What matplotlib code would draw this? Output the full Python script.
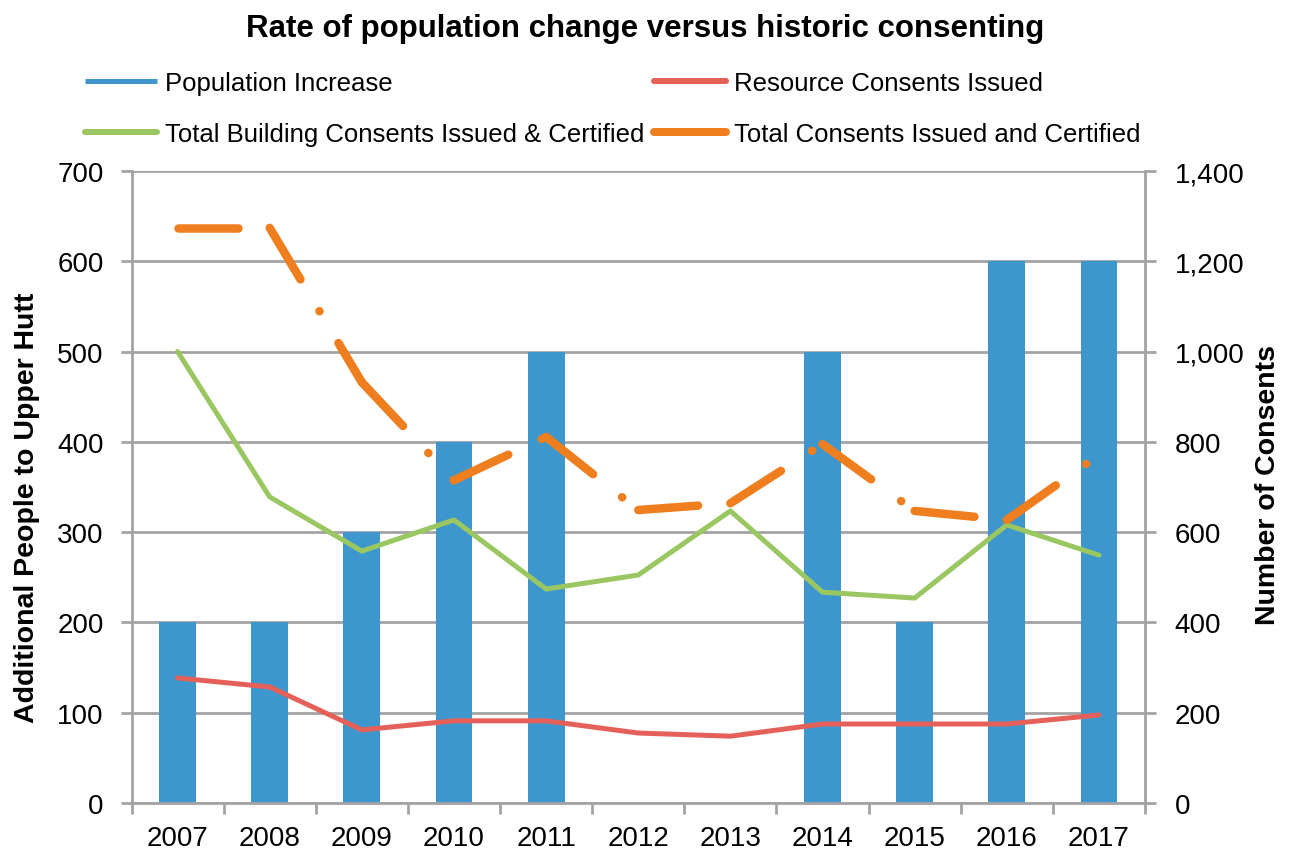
import matplotlib
matplotlib.use("Agg")
import matplotlib.pyplot as plt
from matplotlib.lines import Line2D
from matplotlib.ticker import FuncFormatter, MultipleLocator
import numpy as np

plt.rcParams['font.family'] = ['Liberation Sans', 'DejaVu Sans']
plt.rcParams['lines.scale_dashes'] = False

years = ['2007', '2008', '2009', '2010', '2011', '2012', '2013', '2014', '2015', '2016', '2017']
population_increase = [200, 200, 300, 400, 500, 0, 0, 500, 200, 600, 600]
resource_consents = [277, 257, 162, 182, 182, 155, 148, 175, 175, 175, 195]
building_consents = [1000, 678, 558, 627, 474, 505, 647, 467, 454, 616, 549]
total_consents = [1274, 1274, 932, 715, 811, 649, 664, 795, 647, 627, 771]

BLUE = '#3D96CC'
RED = '#E6605A'
GREEN = '#9BC762'
ORANGE = '#EF7F1E'
GRID = '#A3A3A3'

W, H = 1290, 854
fig = plt.figure(figsize=(W / 100, H / 100), dpi=100)
L, R, T, B = 131.5, 1145, 172, 804
ax = fig.add_axes([L / W, 1 - B / H, (R - L) / W, (B - T) / H])
ax2 = ax.twinx()

x = np.arange(len(years))
ax.bar(x, population_increase, width=0.4, color=BLUE, zorder=2)
ax.set_xlim(-0.5, len(years) - 0.5)
ax.set_ylim(0, 700)
ax.yaxis.set_major_locator(MultipleLocator(100))
ax.grid(axis='y', color=GRID, linewidth=2, zorder=0)
ax.set_axisbelow(True)

ax2.set_ylim(0, 1400)
ax2.yaxis.set_major_locator(MultipleLocator(200))
ax2.yaxis.set_major_formatter(FuncFormatter(lambda v, p: f'{int(v):,}'))

lw_thin = 5 * 0.72
ax2.plot(x, resource_consents, color=RED, linewidth=lw_thin, solid_capstyle='round',
         solid_joinstyle='round', zorder=3)
ax2.plot(x, building_consents, color=GREEN, linewidth=lw_thin, solid_capstyle='round',
         solid_joinstyle='round', zorder=3)
# dash pattern restarts at every vertex (as drawn in the original)
lw_thick = 8.5 * 0.72
dash = (60 * 0.72, 37 * 0.72, 0.1, 37 * 0.72)
for i in range(len(x) - 1):
    ax2.plot(x[i:i + 2], total_consents[i:i + 2], color=ORANGE, linewidth=lw_thick,
             dashes=dash, dash_capstyle='round', solid_capstyle='round', zorder=4)

# axes styling
for a in (ax, ax2):
    for s in a.spines.values():
        s.set_color(GRID)
        s.set_linewidth(2)
    a.spines['top'].set_visible(False)
ax.spines['right'].set_visible(False)
ax2.spines['left'].set_visible(False)
ax2.spines['bottom'].set_visible(False)

FS = 20
ax.set_xticks(x)
ax.set_xticklabels(years)
ax.set_xticks(np.arange(-0.5, len(years), 1), minor=True)
ax.tick_params(axis='x', which='major', length=0, labelsize=FS, pad=15.5, colors='black')
ax.tick_params(axis='x', which='minor', length=8, width=2, color=GRID, direction='out')
ax.tick_params(axis='y', length=8, width=2, color=GRID, labelsize=FS, pad=12, labelcolor='black')
ax2.tick_params(axis='y', length=8, width=2, color=GRID, labelsize=FS, pad=13.5, labelcolor='black')

ax.set_ylabel('Additional People to Upper Hutt', fontsize=20.5, fontweight='bold')
ax2.set_ylabel('Number of Consents', fontsize=20.5, fontweight='bold')
ax.yaxis.set_label_coords((27 - L) / (R - L), (B - 508) / (B - T))
ax2.yaxis.set_label_coords((1268 - L) / (R - L), (B - 485) / (B - T))
ax.yaxis.label.set_verticalalignment('center')
ax2.yaxis.label.set_verticalalignment('center')

fig.text(0.5 * (243 + 1048) / W, 1 - 37 / H, 'Rate of population change versus historic consenting',
         ha='center', va='baseline', fontsize=22.5, fontweight='bold')

handles = [
    Line2D([], [], color=BLUE, linewidth=5 * 0.72, solid_capstyle='butt'),
    Line2D([], [], color=GREEN, linewidth=6 * 0.72, solid_capstyle='round'),
    Line2D([], [], color=RED, linewidth=6 * 0.72, solid_capstyle='round'),
    Line2D([], [], color=ORANGE, linewidth=8 * 0.72, solid_capstyle='round'),
]
labels = ['Population Increase', 'Total Building Consents Issued & Certified',
          'Resource Consents Issued', 'Total Consents Issued and Certified']
fig.legend(handles, labels, ncol=2, loc='upper left', bbox_to_anchor=(85 / W, 1 - 72 / H),
           frameon=False, fontsize=18.5, handlelength=2.8, handletextpad=0.3, columnspacing=0.4,
           labelspacing=1.05, borderpad=0, borderaxespad=0)

fig.savefig('out.png', dpi=100)
